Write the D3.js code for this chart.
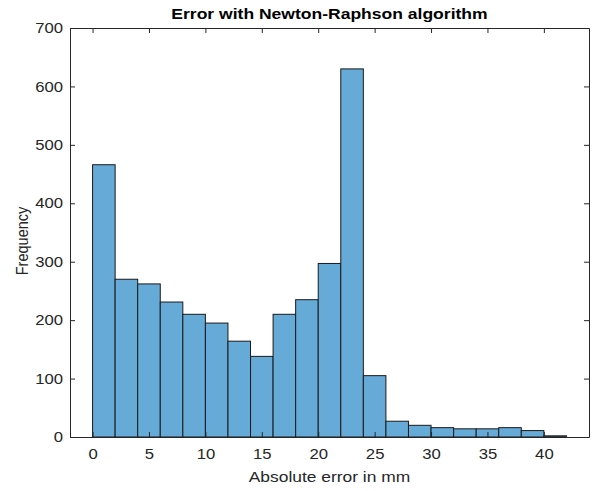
<!DOCTYPE html>
<html>
<head>
<meta charset="utf-8">
<script src="https://cdn.jsdelivr.net/npm/d3@7"></script>
<style>
  body { margin: 0; background: #fff; }
  text { font-family: "Liberation Sans", Arial, Helvetica, sans-serif; }
</style>
</head>
<body>
<div class="visualization"></div>
<script>
  'use strict';

  // histogram bins, width 2 mm, starting at 0
  var binEdges  = d3.range(0, 44, 2);
  var counts    = [466, 270, 262, 231, 210, 195, 164, 138, 210, 235, 297, 630, 105, 27, 20, 16, 14, 14, 16, 11, 2];
  var xTicks    = [0, 5, 10, 15, 20, 25, 30, 35, 40];
  var yTicks    = [0, 100, 200, 300, 400, 500, 600, 700];

  var width  = 595, height = 491;
  var margin = {left: 70, top: 28, right: 6, bottom: 54};
  var axisColor = '#262626';

  var svg = d3.select('.visualization')
    .append('svg')
    .attr('width', width)
    .attr('height', height);

  var x = d3.scaleLinear().domain([-2, 44])
    .range([margin.left, width - margin.right]);
  var y = d3.scaleLinear().domain([0, 700])
    .range([height - margin.bottom, margin.top]);

  var bins = counts.map(function(c, i){
    return {x0: binEdges[i], x1: binEdges[i + 1], n: c};
  });

  // the reference text is a bit wider than its height suggests
  var stretch = function(sel, k){
    sel.each(function(){
      var len = this.getComputedTextLength();
      d3.select(this)
        .attr('textLength', len * k)
        .attr('lengthAdjust', 'spacingAndGlyphs');
    });
  };

  // bars
  svg.append('g').selectAll('rect')
    .data(bins)
    .enter().append('rect')
    .attr('x', function(d){ return x(d.x0); })
    .attr('y', function(d){ return y(d.n); })
    .attr('width', function(d){ return x(d.x1) - x(d.x0); })
    .attr('height', function(d){ return y(0) - y(d.n); })
    .attr('fill', '#66aad7')
    .attr('stroke', '#1a1a1a')
    .attr('stroke-width', 1);

  // axes: ticks pointing inward, mirrored on top and right
  var tickLen = 5;
  var xBottom = svg.append('g')
    .attr('transform', 'translate(0,' + y(0) + ')')
    .call(d3.axisBottom(x).tickValues(xTicks).tickSizeInner(-tickLen).tickSizeOuter(0).tickPadding(12));
  var xTop = svg.append('g')
    .attr('transform', 'translate(0,' + y(700) + ')')
    .call(d3.axisTop(x).tickValues(xTicks).tickSizeInner(-tickLen).tickSizeOuter(0).tickFormat(''));
  var yLeft = svg.append('g')
    .attr('transform', 'translate(' + x(-2) + ',0)')
    .call(d3.axisLeft(y).tickValues(yTicks).tickSizeInner(-tickLen).tickSizeOuter(0).tickPadding(7));
  var yRight = svg.append('g')
    .attr('transform', 'translate(' + x(44) + ',0)')
    .call(d3.axisRight(y).tickValues(yTicks).tickSizeInner(-tickLen).tickSizeOuter(0).tickFormat(''));

  [xBottom, xTop, yLeft, yRight].forEach(function(g){
    g.select('.domain').attr('stroke', axisColor).attr('stroke-width', 1);
    g.selectAll('.tick line').attr('stroke', axisColor);
    g.selectAll('.tick text')
      .attr('fill', axisColor)
      .style('font-size', '14.5px')
      .style('font-family', '"Liberation Sans", Arial, sans-serif');
  });
  stretch(xBottom.selectAll('.tick text'), 1.15);
  stretch(yLeft.selectAll('.tick text'), 1.15);

  // title and labels
  svg.append('text')
    .attr('x', (x(-2) + x(44)) / 2)
    .attr('y', 19)
    .attr('text-anchor', 'middle')
    .attr('font-weight', 'bold')
    .attr('font-size', '15.5px')
    .attr('fill', '#000')
    .text('Error with Newton-Raphson algorithm')
    .call(stretch, 1.13);

  svg.append('text')
    .attr('x', (x(-2) + x(44)) / 2)
    .attr('y', 482)
    .attr('text-anchor', 'middle')
    .attr('font-size', '15px')
    .attr('fill', axisColor)
    .text('Absolute error in mm')
    .call(stretch, 1.16);

  svg.append('text')
    .attr('transform', 'translate(28,241) rotate(-90)')
    .attr('text-anchor', 'middle')
    .attr('font-size', '16.5px')
    .attr('fill', axisColor)
    .text('Frequency')
    .call(stretch, 0.88);
</script>
</body>
</html>
